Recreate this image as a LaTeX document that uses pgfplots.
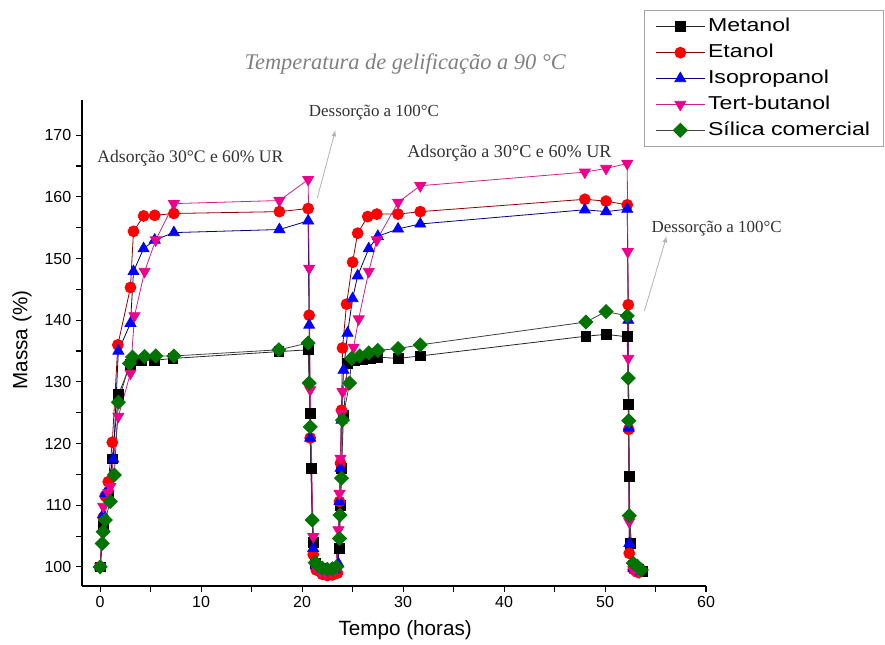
\documentclass[border=0pt]{standalone}
\usepackage{pgfplots}
\pgfplotsset{compat=1.18}
\usepackage{fontspec}
\setmainfont{Liberation Serif}
\setsansfont{Liberation Sans}
\newfontfamily\legfont[FakeStretch=1.24]{Liberation Sans}
\definecolor{dgreen}{RGB}{0,115,0}
\definecolor{annot}{RGB}{50,50,50}
\begin{document}
\begin{tikzpicture}
\useasboundingbox (-61.5pt,-43.5pt) rectangle (602.25pt,439.5pt);
\begin{axis}[
  at={(0pt,0pt)}, anchor=south west,
  scale only axis, width=468pt, height=364.5pt,
  xmin=-1.8, xmax=60, ymin=96.9, ymax=175.7,
  axis x line*=bottom, axis y line*=left,
  axis line style={black, line width=1pt},
  clip=false,
  xtick={0,10,...,60}, minor x tick num=1,
  ytick={100,110,...,170}, minor y tick num=1,
  tick align=outside,
  major tick length=4.5pt, minor tick length=4.5pt,
  every tick/.style={black, line width=0.8pt},
  tick label style={font=\sffamily\fontsize{12}{14}\selectfont},
  /pgf/number format/assume math mode=true,
  xlabel={Tempo (horas)}, ylabel={Massa (\%)},
  xlabel style={font=\sffamily\fontsize{15.5}{17}\selectfont, at={(rel axis cs:0.518,-0.0905)}, anchor=center},
  ylabel style={font=\sffamily\fontsize{15.5}{17}\selectfont, at={(rel axis cs:-0.096,0.506)}, anchor=center, rotate=0},
  legend style={at={(rel axis cs:1.285,1.185)}, anchor=north east, draw=gray!70, line width=0.6pt,
    font=\legfont\fontsize{14}{16}\selectfont, inner xsep=8pt, inner ysep=3pt, row sep=0.9pt,
    nodes={text height=11pt, text depth=3.5pt, inner sep=2pt},
    cells={anchor=west}},
  legend image code/.code={\draw[mark repeat=2,mark phase=2] plot coordinates {(0pt,0pt) (18.5pt,0pt) (37pt,0pt)};},
]
% Metanol
\addplot[black!85, line width=0.6pt, mark=square*, mark size=3.7pt, mark options={black, fill=black, solid}] coordinates {
(0,100) (0.3,106.5) (0.8,111.5) (1.2,117.5) (1.8,127.9) (3.0,132.8) (4.1,133.5) (5.4,133.5) (7.2,133.8) (17.7,134.9) (20.6,135.2)
(20.8,124.9) (20.9,116.0) (21.1,104.0) (21.3,100.5) (21.8,99.8) (22.3,99.5) (22.8,99.5) (23.3,99.7) (23.7,103) (23.8,110) (23.9,116) (24.1,124.5) (24.5,133.0) (25.2,133.4) (26.0,133.6) (26.8,133.8) (27.5,134.0) (29.5,133.8) (31.7,134.2)
(48.1,137.4) (50.1,137.7) (52.2,137.3) (52.3,126.4) (52.4,114.7) (52.5,103.8) (52.8,100.3) (53.3,99.6) (53.7,99.3)};
\addlegendentry{Metanol}
% Etanol
\addplot[red!55!black, line width=0.6pt, mark=*, mark size=4.1pt, mark options={red, fill=red, solid}] coordinates {
(0,100) (0.3,108) (0.5,111.5) (0.8,113.8) (1.2,120.2) (1.75,136.0) (3.0,145.3) (3.3,154.4) (4.3,156.9) (5.4,157.0) (7.3,157.3) (17.75,157.6) (20.6,158.1)
(20.7,140.8) (20.8,120.9) (21.1,102) (21.4,99.5) (22,98.8) (22.5,98.6) (23,98.7) (23.5,99) (23.7,110.6) (23.8,116.8) (23.9,125.4) (24.0,135.5) (24.4,142.6) (25.0,149.4) (25.5,154.1) (26.5,156.8) (27.4,157.2) (29.5,157.2) (31.7,157.6)
(48.0,159.6) (50.1,159.3) (52.2,158.7) (52.3,142.5) (52.35,122.3) (52.4,102.2) (52.8,99.6) (53.3,99.1)};
\addlegendentry{Etanol}
% Isopropanol
\addplot[blue!50!black, line width=0.6pt, mark=triangle*, mark size=4.7pt, mark options={blue, fill=blue, solid}] coordinates {
(0,100) (0.3,108.5) (0.5,111.9) (1.3,117.5) (1.8,135.0) (3.0,139.5) (3.3,147.9) (4.3,151.6) (5.4,153.0) (7.3,154.2) (17.75,154.7) (20.6,156.1)
(20.7,139.2) (20.8,120.9) (21.1,103) (21.4,100.2) (22,99.8) (22.6,99.5) (23.2,99.6) (23.6,100.5) (23.7,110.6) (23.8,116) (23.9,123.8) (24.1,131.9) (24.5,137.9) (25.0,143.5) (25.5,147.2) (26.6,151.6) (27.5,153.6) (29.5,154.8) (31.7,155.6)
(48.0,157.9) (50.1,157.6) (52.2,158.0) (52.3,140) (52.35,122.5) (52.4,103.8) (52.8,99.8) (53.3,99.3)};
\addlegendentry{Isopropanol}
% Tert-butanol
\addplot[magenta!85!black, line width=0.6pt, mark=triangle*, mark size=4.7pt, mark options={magenta, fill=magenta, solid, rotate=180}] coordinates {
(0,100) (0.3,109.8) (0.8,112) (1.0,113) (1.8,124.4) (3.0,131.4) (3.4,140.7) (4.4,147.9) (5.5,153.0) (7.3,158.9) (17.75,159.4) (20.6,162.8)
(20.7,148.4) (20.8,128.7) (21.1,104.9) (21.3,100) (21.8,99.2) (22.3,99) (22.8,99.2) (23.3,99.5) (23.6,106) (23.7,111.9) (23.8,117.6) (23.9,124.9) (24.0,128.4) (25.1,135.6) (25.6,140.2) (26.6,147.9) (27.4,153) (29.5,159.1) (31.7,161.8)
(48.0,164) (50.1,164.6) (52.2,165.4) (52.25,151.1) (52.3,133.8) (52.4,107.3) (52.8,99.5) (53.4,99.2)};
\addlegendentry{Tert-butanol}
% Silica comercial
\addplot[gray!50!black, line width=0.6pt, mark=square*, mark size=3.7pt, mark options={dgreen, fill=dgreen, solid, rotate=45}] coordinates {
(0,100) (0.2,103.8) (0.3,105.7) (0.5,107.6) (1.0,110.6) (1.4,114.9) (1.8,126.7) (2.9,133.0) (3.2,134.0) (4.4,134.1) (5.5,134.2) (7.3,134.2) (17.7,135.2) (20.6,136.3)
(20.7,129.8) (20.8,122.7) (21.0,107.6) (21.3,100.7) (21.6,100.2) (22,99.8) (22.5,99.6) (23,99.7) (23.4,100) (23.7,104.6) (23.75,108.4) (23.9,114.4) (24.0,123.8) (24.7,129.8) (24.9,133.8) (25.7,134.2) (26.6,134.7) (27.5,135.1) (29.5,135.4) (31.7,136.0)
(48.1,139.7) (50.1,141.4) (52.2,140.7) (52.3,130.6) (52.35,123.7) (52.4,108.3) (52.8,100.6) (53.2,100.1) (53.6,99.5)};
\addlegendentry{S\'{i}lica comercial}
% annotations
\node[font=\itshape\fontsize{16.8}{19}\selectfont, text=gray] at (rel axis cs:0.518,1.074) {Temperatura de gelificação a 90 °C};
\node[font=\fontsize{13.2}{15}\selectfont, text=annot, anchor=west, inner sep=0pt] at (axis cs:-0.3,166.3) {Adsorção 30°C e 60\% UR};
\node[font=\fontsize{12.7}{15}\selectfont, text=annot, anchor=west, inner sep=0pt] at (axis cs:20.65,173.6) {Dessorção a 100°C};
\node[font=\fontsize{13.6}{15}\selectfont, text=annot, anchor=west, inner sep=0pt] at (axis cs:30.4,167.1) {Adsorção a 30°C e 60\% UR};
\node[font=\fontsize{12.7}{15}\selectfont, text=annot, anchor=west, inner sep=0pt] at (axis cs:54.6,154.9) {Dessorção a 100°C};
\draw[gray!60, line width=0.6pt, -latex] (axis cs:21.5,159.8) -- (axis cs:23.3,170.8);
\draw[gray!60, line width=0.6pt, -latex] (axis cs:53.9,141.5) -- (axis cs:56.1,153.6);
\end{axis}
\end{tikzpicture}
\end{document}
